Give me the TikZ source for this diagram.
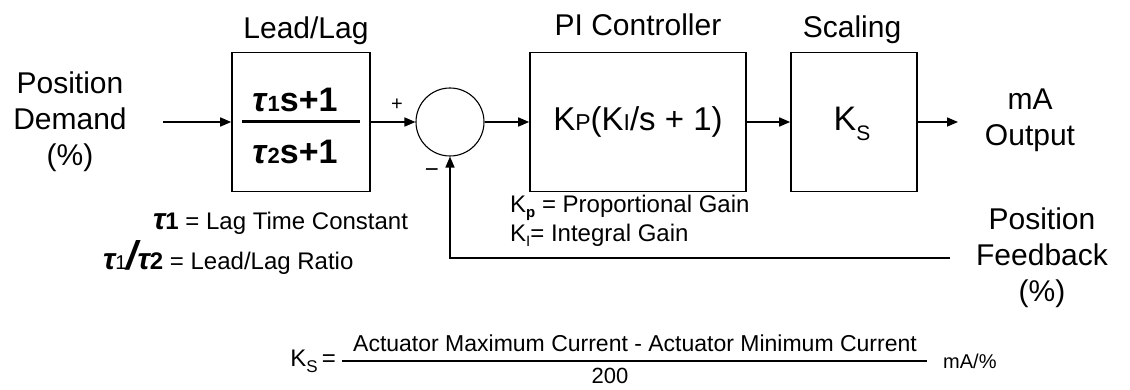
\documentclass[tikz,border=0pt]{standalone}
\usepackage{fontspec}
\setmainfont{Liberation Sans}
\usetikzlibrary{arrows.meta}
\newcommand{\fsz}[1]{\fontsize{#1}{#1}\selectfont}
\begin{document}
\begin{tikzpicture}[x=1pt,y=-1pt,
  blk/.style={draw,line width=1.6pt,inner sep=0pt},
  lbl/.style={font=\fontsize{30}{36}\selectfont,align=center,inner sep=0pt},
  note/.style={font=\fsz{24},inner sep=0pt,anchor=west},
  conn/.style={line width=1.6pt,-{Triangle[length=11pt,width=9pt]}},
  ]
\useasboundingbox (0,0) rectangle (1130,390);
% blocks
\node[blk,minimum width=138pt,minimum height=139pt] (lead) at (301,122) {};
\node[blk,circle,line width=1.1pt,minimum size=68pt] (sum) at (450,122) {};
\node[blk,minimum width=216pt,minimum height=139pt] (pi) at (638,122) {};
\node[blk,minimum width=126pt,minimum height=139pt] (scal) at (854,122) {};
% block titles
\node[lbl] (tlead) at (306,31) {Lead/Lag};
\node[lbl] (tpi) at (638,25) {PI Controller};
\node[lbl] (tscal) at (852,30) {Scaling};
% block contents
\node[inner sep=0pt,font=\fsz{34}\bfseries] (num) at (295,100) {\textit{τ}{\fsz{22}1}s+1};
\node[inner sep=0pt,font=\fsz{34}\bfseries] (den) at (295,152) {\textit{τ}{\fsz{22}2}s+1};
\draw[line width=3pt] (242,122) -- (360,122);
\node[inner sep=0pt,font=\fsz{33}] (pitxt) at (638,122) {K{\fsz{23}P}(K{\fsz{23}I}/s + 1)};
\node[inner sep=0pt,font=\fsz{34}] (kstxt) at (852,124) {K\raisebox{-10pt}{\fsz{21}S}};
% signs
\node[inner sep=0pt,font=\fsz{20}] (plus) at (397,105) {+};
\node[inner sep=0pt,font=\fsz{24}] (minus) at (432,173) {−};
% outer labels
\node[lbl] (demand) at (70,122) {Position\\Demand\\(\%)};
\node[lbl] (output) at (1030,120) {mA\\Output};
\node[lbl] (feedback) at (1042,258) {Position\\Feedback\\(\%)};
% connectors
\coordinate (in) at (163,122);
\coordinate (out) at (958,122);
\coordinate (fb) at (950,258);
\draw[conn] (in) -- (lead);
\draw[conn] (lead) -- (sum);
\draw[conn] (sum) -- (pi);
\draw[conn] (pi) -- (scal);
\draw[conn] (scal) -- (out);
\draw[conn] (fb) -- (sum |- fb) -- (sum);
% notes
\node[note] (kp) at (510,208) {K\raisebox{-5pt}{\fsz{15}\bfseries p} = Proportional Gain};
\node[note] (ki) at (510,235) {K\raisebox{-5pt}{\fsz{15}I}= Integral Gain};
\node[note] (tau1) at (153,223) {{\fsz{30}\bfseries\itshape τ}{\fsz{24}\bfseries 1} = Lag Time Constant};
\node[note] (tau2) at (103,257) {{\fsz{30}\bfseries\itshape τ}{\fsz{20}1}{\fsz{40}\bfseries\itshape /}{\fsz{30}\bfseries\itshape τ}{\fsz{24}\bfseries 2} = Lead/Lag Ratio};
% scaling formula
\node[inner sep=0pt,font=\fsz{24},anchor=east] (kslhs) at (336,361) {K\raisebox{-6pt}{\fsz{17}S}\,=};
\draw[line width=1.5pt] (342,361) -- (927,361);
\node[inner sep=0pt,font=\fsz{23}] (ksnum) at (635,343) {Actuator Maximum Current - Actuator Minimum Current};
\node[inner sep=0pt,font=\fsz{22}] (ksden) at (610,376) {200};
\node[inner sep=0pt,font=\fsz{20},anchor=west] (unit) at (943,361) {mA/\%};
\end{tikzpicture}
\end{document}
